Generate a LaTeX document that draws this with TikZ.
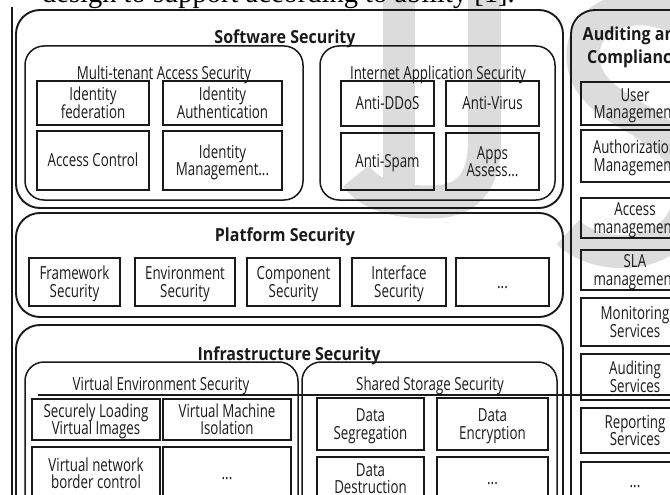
\documentclass[tikz,border=0pt]{standalone}
\usepackage{fontspec}
\newfontfamily\dgmfont[FakeStretch=0.74]{Open Sans}
\newfontfamily\dgmhead[FakeStretch=0.89]{Open Sans}
\newfontfamily\capfont{Liberation Serif}
\newcommand\itemfont{\dgmfont\fontsize{18}{17.5}\selectfont}
\newcommand\subfont{\dgmfont\fontsize{18}{17.5}\selectfont}
\newcommand\headfont{\dgmhead\bfseries\fontsize{18}{23}\selectfont}
\definecolor{ink}{HTML}{1A1A1A}
\definecolor{markgray}{HTML}{DCDCDC}
% one text line whose box is exactly cap height tall, so boxes centre on the letters
\newcommand\capline[1]{\hbox{\vrule width 0pt height 12.9pt depth 0pt\smash{#1}}}
% two centred lines, baseline at the second one
\newcommand\twolines[2]{\vbox{\halign{\hfil##\hfil\cr\capline{#1}\cr\capline{#2}\cr}}}
% a boxed entry given by its corners (x1,y1) (x2,y2)
\newcommand\entry[6]{\node[item, minimum width={(#4)-(#2)}, minimum height={(#5)-(#3)}]
  (#1) at ({((#2)+(#4))/2},{((#3)+(#5))/2}) {#6};}
\begin{document}
\begin{tikzpicture}[x=1pt,y=-1pt,
  layer/.style={draw=ink, line width=1.9pt, rounded corners=24pt, inner sep=0pt},
  group/.style={draw=ink, line width=1.5pt, rounded corners=19pt, inner sep=0pt},
  item/.style={draw=ink, line width=1.5pt, inner sep=0pt, font=\itemfont, text=ink},
  head/.style={font=\headfont, inner sep=0pt, text=ink},
  subhead/.style={font=\subfont, inner sep=0pt, text=ink},
  markline/.style={draw=markgray, line width=33pt},
  rule/.style={draw=ink, line width=1.6pt}]
\useasboundingbox (0,0) rectangle (670,495);
\clip (0,0) rectangle (670,495);

% watermark letters behind the diagram
\fill[markgray] (383,-10) rectangle (415,200);
\draw[markline] (484.5,-10) -- (484.5,140)
  .. controls (484.5,195) and (455,202) .. (430,202)
  .. controls (395,202) and (370,195) .. (356,176);
\draw[markline] (690,25) .. controls (640,-10) and (570,15) .. (585,70)
  .. controls (600,120) and (690,120) .. (690,190)
  .. controls (690,260) and (600,265) .. (568,232);

% caption line running off the top edge
\node[font=\capfont\fontsize{28.5}{28.5}\selectfont, anchor=base west, inner sep=0pt] (cap) at (42,3)
  {design to support according to ability [1].};

% page rule on the left
\coordinate (vt) at (12,7);
\coordinate (vb) at (12,500);
\draw[ink, line width=2pt] (vt) -- (vb);

% ---------- Software Security ----------
\node[layer, minimum width=547, minimum height=198] (sw) at (289.5,109) {};
\node[head, anchor=base] (swt) at (285,44) {Software Security};
\node[group, minimum width=278, minimum height=154] (mt) at (164,123) {};
\node[subhead, anchor=base] (mtt) at (164,80) {Multi-tenant Access Security};
\entry{idf}{37}{81}{149}{125}{\twolines{Identity}{federation}}
\entry{ida}{163}{81}{282}{125}{\twolines{Identity}{Authentication}}
\entry{acc}{37}{131}{149}{190}{\capline{Access Control}}
\entry{idm}{163}{131}{282}{190}{\twolines{Identity}{Management...}}
\node[group, minimum width=235, minimum height=154] (ia) at (437.5,123) {};
\node[subhead, anchor=base] (iat) at (438,80) {Internet Application Security};
\entry{ddos}{341}{81}{434}{126}{\capline{Anti-DDoS}}
\entry{avir}{446}{81}{539}{126}{\capline{Anti-Virus}}
\entry{aspam}{341}{133}{434}{190}{\capline{Anti-Spam}}
\entry{apps}{446}{133}{539}{190}{\twolines{Apps}{Assess...}}

% ---------- Platform Security ----------
\node[layer, minimum width=547, minimum height=104] (pf) at (289.5,265) {};
\node[head, anchor=base] (pft) at (285,241) {Platform Security};
\entry{fw}{29}{258}{120}{306}{\twolines{Framework}{Security}}
\entry{env}{135}{258}{235}{306}{\twolines{Environment}{Security}}
\entry{comp}{247}{258}{340}{306}{\twolines{Component}{Security}}
\entry{intf}{352}{258}{446}{306}{\twolines{Interface}{Security}}
\entry{pdots}{456}{258}{549}{306}{\capline{...}}

% ---------- Infrastructure Security ----------
\node[layer, minimum width=547, minimum height=205] (inf) at (289.5,427.5) {};
\node[head, anchor=base] (inft) at (289,360) {Infrastructure Security};
\node[group, minimum width=273, minimum height=168] (ve) at (161.5,446) {};
\node[subhead, anchor=base] (vet) at (161,390) {Virtual Environment Security};
\entry{slv}{32}{399}{160}{440}{\twolines{Securely Loading}{Virtual Images}}
\entry{vmi}{163}{399}{291}{440}{\twolines{Virtual Machine}{Isolation}}
\entry{vnb}{32}{447}{160}{500}{\twolines{Virtual network}{border control}}
\entry{vdots}{163}{447}{291}{500}{\capline{...}}
\node[group, minimum width=255, minimum height=168] (ss) at (429.5,446) {};
\node[subhead, anchor=base] (sst) at (430,390) {Shared Storage Security};
\entry{dseg}{317}{398}{424}{450}{\twolines{Data}{Segregation}}
\entry{denc}{437}{398}{548}{450}{\twolines{Data}{Encryption}}
\entry{ddes}{317}{457}{424}{500}{\twolines{Data}{Destruction}}
\entry{sdots}{437}{457}{548}{500}{\capline{...}}

% ---------- Auditing and Compliance ----------
\node[layer, minimum width=127, minimum height=520] (au) at (634.5,270) {};
\node[head] (aut) at (634,46) {\twolines{Auditing and}{Compliance}};
\entry{um}{581}{82}{689}{125}{\twolines{User}{Management}}
\entry{authz}{581}{130}{689}{182}{\twolines{Authorization}{Management}}
\entry{accm}{581}{198}{689}{238}{\twolines{Access}{management}}
\entry{sla}{581}{250}{689}{290}{\twolines{SLA}{management}}
\entry{mon}{581}{298}{689}{346}{\twolines{Monitoring}{Services}}
\entry{auds}{581}{354}{689}{400}{\twolines{Auditing}{Services}}
\entry{rep}{581}{408}{689}{453}{\twolines{Reporting}{Services}}
\entry{rdots}{581}{462}{689}{500}{\capline{...}}

% horizontal rule crossing the lower part
\coordinate (hl) at (38,395);
\coordinate (hr) at (675,395);
\draw[rule] (hl) -- (hr);
\end{tikzpicture}
\end{document}
